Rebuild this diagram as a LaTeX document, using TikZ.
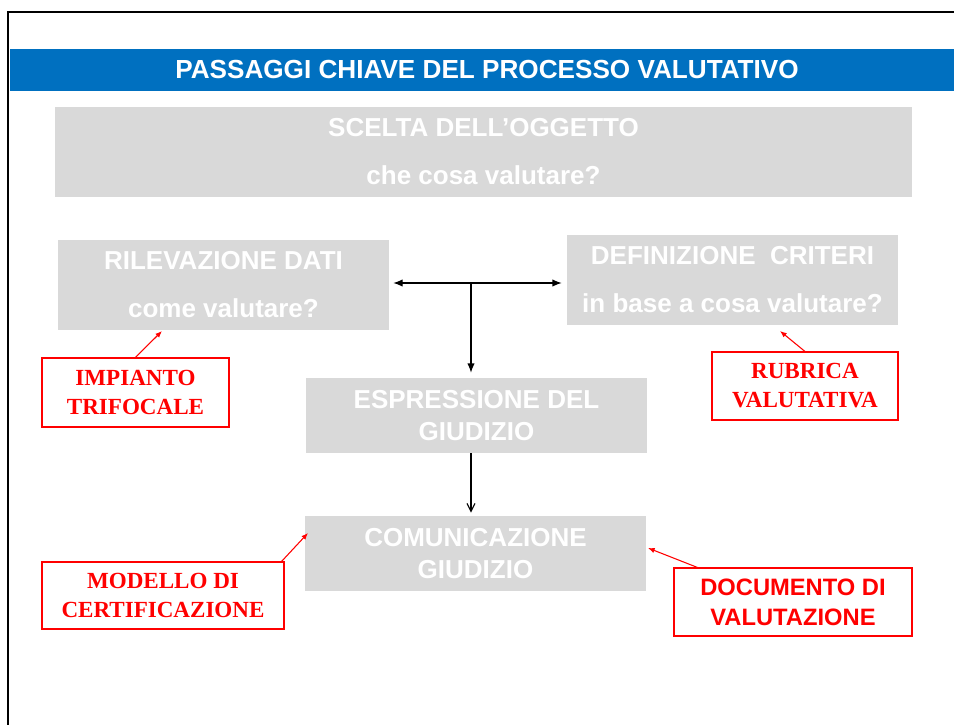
\documentclass[tikz,border=0pt]{standalone}
\usepackage{fontspec}
\setmainfont{Liberation Serif}
\setsansfont{Liberation Sans}
\usepackage{tikz}
\usepackage{xcolor}
\usetikzlibrary{shapes, arrows.meta}

\definecolor{barblue}{RGB}{0,112,192}
\definecolor{boxgray}{RGB}{217,217,217}
\definecolor{notered}{RGB}{255,0,0}

\tikzset{
    graybox/.style={fill=boxgray, draw=none, text=white, align=center, inner sep=0pt,
        font=\sffamily\bfseries\fontsize{19.5}{36}\selectfont},
    notebox/.style={draw=notered, line width=0.8pt, text=notered, align=center, inner sep=0pt,
        font=\rmfamily\bfseries\fontsize{17.3}{21.75}\selectfont},
    flowarrow/.style={line width=0.9pt, -{Latex[length=7pt,width=5.5pt]}},
    notearrow/.style={draw=notered, line width=0.8pt, -{Latex[length=5pt,width=4pt]}}
}

\begin{document}
\begin{tikzpicture}[x=0.75pt,y=0.75pt,yscale=-1,xscale=1]
    \useasboundingbox (0,0) rectangle (954,725);

    %Frame lines
    \draw [line width=1.5pt] (8,725) -- (8,12) -- (954,12) ;
    %Header bar
    \fill [barblue] (10,49) rectangle (954,91) ;
    % Text Node
    \draw (487,70) node [text=white, font=\sffamily\bfseries\fontsize{19.6}{24}\selectfont] (title) {PASSAGGI CHIAVE DEL PROCESSO VALUTATIVO};

    %Gray boxes
    \draw (483.5,152) node [graybox, minimum width=642.75pt, minimum height=67.5pt] (oggetto) {SCELTA DELL’OGGETTO\\che cosa valutare?};
    \draw (223.5,285) node [graybox, minimum width=248.25pt, minimum height=67.5pt] (rilevazione) {RILEVAZIONE DATI\\come valutare?};
    \draw (732.5,280) node [graybox, minimum width=248.25pt, minimum height=67.5pt] (criteri) {DEFINIZIONE~ CRITERI\\in base a cosa valutare?};
    \draw (476.5,415.5) node [graybox, minimum width=255.75pt, minimum height=56.25pt, font=\sffamily\bfseries\fontsize{19.5}{23.5}\selectfont] (espressione) {ESPRESSIONE DEL\\GIUDIZIO};
    \draw (475.5,553.5) node [graybox, minimum width=255.75pt, minimum height=56.25pt, font=\sffamily\bfseries\fontsize{19.5}{24}\selectfont] (comunicazione) {COMUNICAZIONE\\GIUDIZIO};

    %Red note boxes
    \draw (135.5,392.5) node [notebox, minimum width=140.25pt, minimum height=51.75pt] (impianto) {IMPIANTO\\TRIFOCALE};
    \draw (805,386) node [notebox, minimum width=139.5pt, minimum height=51pt] (rubrica) {RUBRICA\\VALUTATIVA};
    \draw (163,595.5) node [notebox, minimum width=181.5pt, minimum height=50.25pt] (modello) {MODELLO DI\\CERTIFICAZIONE};
    \draw (793,602) node [notebox, minimum width=178.5pt, minimum height=51pt, font=\sffamily\bfseries\fontsize{17.8}{22.5}\selectfont] (documento) {DOCUMENTO DI\\VALUTAZIONE};

    %Straight Lines
    \coordinate (junc) at (471,283) ;
    \draw [flowarrow, {Latex[length=7pt,width=5.5pt]}-{Latex[length=7pt,width=5.5pt]}, shorten <=3pt, shorten >=3.75pt] (rilevazione.east |- junc) -- (criteri.west |- junc) ;
    \draw [flowarrow, shorten >=3.75pt] (junc) -- (junc |- espressione.north) ;
    \draw [line width=0.9pt, -{Straight Barb[length=6pt,width=6pt]}, shorten >=2.25pt] (junc |- espressione.south) -- (junc |- comunicazione.north) ;

    %Red arrows
    \coordinate (rilevazioneTip) at (162,331) ;
    \coordinate (criteriTip) at (780,331) ;
    \coordinate (comunicazioneTipL) at (308,533) ;
    \coordinate (comunicazioneTipR) at (648,548) ;
    \draw [notearrow] (impianto.north) -- (rilevazioneTip) ;
    \draw [notearrow] (rubrica.north) -- (criteriTip) ;
    \draw [notearrow] ([xshift=-2.25pt]modello.north east) -- (comunicazioneTipL) ;
    \draw [notearrow] ([xshift=18pt]documento.north west) -- (comunicazioneTipR) ;
\end{tikzpicture}
\end{document}
